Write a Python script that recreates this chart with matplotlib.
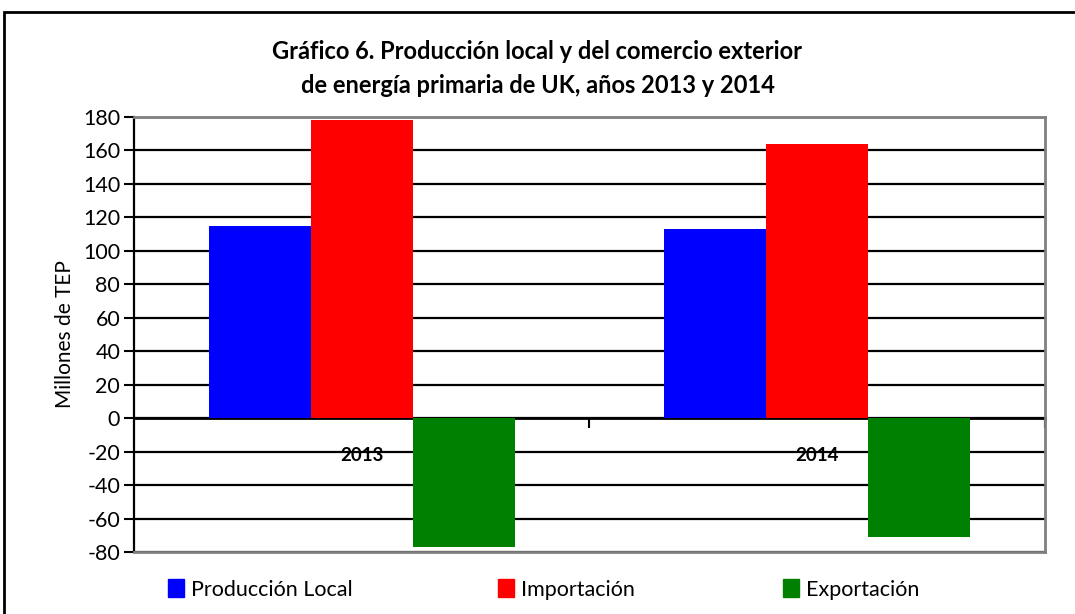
import matplotlib.pyplot as plt
import matplotlib.patches as mpatches
import numpy as np

plt.rcParams['font.family'] = ['Lato', 'DejaVu Sans']
plt.rcParams['axes.unicode_minus'] = False

years = ['2013', '2014']
series = ['Producción Local', 'Importación', 'Exportación']
produccion = [115, 113]
importacion = [178.5, 164]
exportacion = [-77, -71]
colors = ['#0000ff', '#ff0000', '#008000']

fig = plt.figure(figsize=(10.75, 6.14), dpi=100)
ax = fig.add_axes([0.1247, 0.101, 0.972 - 0.1247, 0.8094 - 0.101])

x = np.arange(len(years))
w = 0.2237
for i, (vals, c, lab) in enumerate(zip([produccion, importacion, exportacion], colors, series)):
    ax.bar(x + (i - 1) * w, vals, width=w, color=c, label=lab, zorder=3)

ax.set_xlim(-0.5, 1.5)
ax.set_ylim(-80, 180)
ax.set_yticks(np.arange(-80, 181, 20))
ax.yaxis.grid(True, color='black', linewidth=1.6, zorder=1)
ax.set_axisbelow(True)
ax.tick_params(axis='y', direction='out', length=7, width=1.5, labelsize=15.5, pad=3)
ax.set_xticks([])
for s in ['top', 'right', 'bottom']:
    ax.spines[s].set_color('#808080')
    ax.spines[s].set_linewidth(2)
    ax.spines[s].set_zorder(4)
ax.spines['left'].set_color('black')
ax.spines['left'].set_linewidth(1.6)

# eje en cero con marcas entre categorias
sec = ax.secondary_xaxis(80 / 260)
sec.set_xticks([0.5, 1.5])
sec.set_xticklabels([])
sec.tick_params(direction='out', length=7, width=1.5)
sec.spines['bottom'].set_linewidth(2)
sec.spines['bottom'].set_zorder(5)

for xi, yr in zip(x, years):
    ax.text(xi, -22.5, yr, ha='center', va='center', fontsize=13.5, fontweight='bold', zorder=6)

ax.set_ylabel('Millones de TEP', fontsize=15, labelpad=6)

fig.text(0.5, 0.888, 'Gráfico 6. Producción local y del comercio exterior\nde energía primaria de UK, años 2013 y 2014',
         ha='center', va='center', fontsize=17, fontweight='bold', linespacing=1.6)

leg_x = [168 / 1075, 498 / 1075, 783 / 1075]
for lx, c, lab in zip(leg_x, colors, series):
    leg = fig.legend([mpatches.Patch(color=c)], [lab], loc='center left', bbox_to_anchor=(lx, 0.040),
                     frameon=False, fontsize=15.5, handlelength=0.75, handleheight=0.9,
                     handletextpad=0.3, borderaxespad=0, borderpad=0)

fig.patches.append(mpatches.Rectangle((4 / 1075, -0.1), 1.2, (614 - 12) / 614 + 0.1,
                                      transform=fig.transFigure, fill=False,
                                      edgecolor='black', linewidth=2))

fig.savefig('out.png', dpi=100)
